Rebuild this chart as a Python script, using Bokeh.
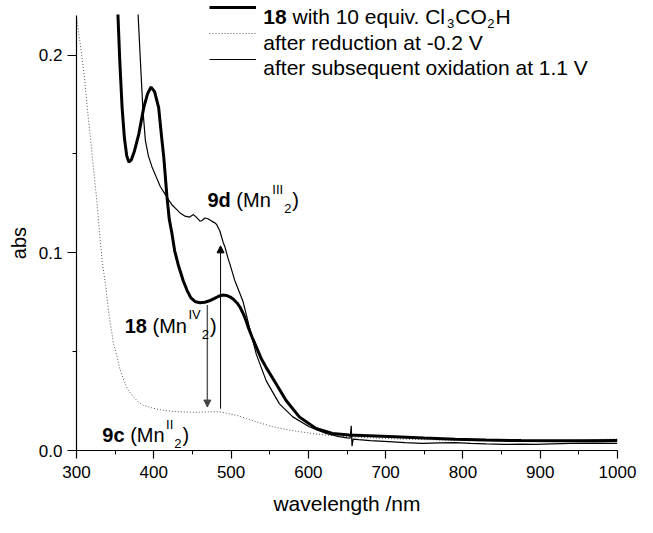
from bokeh.plotting import figure
from bokeh.models import (Range1d, FixedTicker, PrintfTickFormatter, Label, Arrow,
                          NormalHead, Legend, LegendItem, Title)
from bokeh.core.properties import value
from bokeh.embed import file_html
from bokeh.resources import INLINE

# ---------------- data ----------------
WL_ACID = [353.6, 356, 359, 362, 365, 367.7, 371, 375, 380.6, 387, 392, 396.4, 401, 406.3,
           410, 413, 417, 420, 423.4, 427, 432, 438, 443, 448, 454, 460, 466, 472, 478, 484,
           489, 494, 499, 503, 508, 512, 516, 520, 522, 527, 533, 539, 545.5, 558.4, 571.2,
           588.3, 609.8, 631.3, 652.6, 670, 704, 750, 790, 830, 875, 920, 960, 1000]
ABS_ACID = [0.2205, 0.197, 0.1734, 0.158, 0.149, 0.1459, 0.147, 0.1515, 0.160, 0.1734, 0.1805,
            0.1838, 0.1815, 0.1734, 0.159, 0.148, 0.1285, 0.117, 0.110, 0.101, 0.0934, 0.0860,
            0.0810, 0.0772, 0.0752, 0.0747, 0.0750, 0.0757, 0.0768, 0.0780, 0.0786, 0.0784,
            0.0776, 0.0765, 0.0745, 0.0722, 0.0690, 0.0650, 0.0625, 0.0575, 0.0520, 0.0465,
            0.0419, 0.0336, 0.0253, 0.0170, 0.0111, 0.0086, 0.0078, 0.0076, 0.0071, 0.0063,
            0.0057, 0.0053, 0.0050, 0.0049, 0.0049, 0.0050]

WL_RED = [300, 305, 309.9, 314, 318.4, 323, 327, 330, 333.4, 337.7, 341, 344, 348, 352.7, 356,
          361.3, 367, 374, 380, 387, 400, 412.7, 425, 438.4, 452, 468.4, 477, 485.5, 495, 507,
          520, 532.7, 554, 570, 588.3, 605, 622.7, 652.6, 680, 720, 760, 800, 850, 900, 940,
          970, 1000]
ABS_RED = [0.2195, 0.205, 0.190, 0.173, 0.1568, 0.139, 0.1234, 0.109, 0.0952, 0.0835, 0.072,
           0.0636, 0.054, 0.047, 0.0415, 0.0352, 0.0305, 0.0270, 0.0245, 0.0228, 0.0213, 0.0203,
           0.0198, 0.0195, 0.0193, 0.0195, 0.0196, 0.0195, 0.0188, 0.0178, 0.0162, 0.0145,
           0.0120, 0.0107, 0.0095, 0.0086, 0.0078, 0.0070, 0.0064, 0.0058, 0.0054, 0.0051,
           0.0048, 0.0048, 0.0051, 0.0055, 0.0058]

WL_OX = [379.7, 383.6, 386, 389.1, 393, 397.7, 403, 408.4, 414, 419.2, 424, 429.8, 435, 440.5,
         446, 451.3, 455, 459.8, 462, 466.2, 470, 474.8, 479.1, 481.3, 485.5, 489.9, 492, 496.3,
         498.4, 504.8, 515.6, 524, 532.7, 545.5, 562.6, 579.9, 601.2, 622.7, 639.8, 650, 654,
         655.5, 656.5, 658, 665, 680, 704, 725, 747, 770, 790, 810, 830, 854, 875, 893, 915,
         940, 970, 1000]
ABS_OX = [0.2205, 0.190, 0.172, 0.1568, 0.149, 0.1434, 0.1385, 0.1335, 0.1300, 0.1268, 0.1240,
          0.1218, 0.1198, 0.1185, 0.1180, 0.1193, 0.1180, 0.1160, 0.1162, 0.1176, 0.1172,
          0.1160, 0.1151, 0.1143, 0.1110, 0.1051, 0.1030, 0.0969, 0.0944, 0.0860, 0.0752,
          0.0619, 0.0486, 0.0352, 0.0236, 0.0170, 0.0120, 0.0086, 0.0070, 0.0064, 0.0062,
          0.0125, 0.0022, 0.0058, 0.0055, 0.0050, 0.0045, 0.0040, 0.0036, 0.0039, 0.0040,
          0.0036, 0.0033, 0.0031, 0.0032, 0.0031, 0.0034, 0.0036, 0.0037, 0.0036]

X_TICKS = [300, 400, 500, 600, 700, 800, 900, 1000]
X_MINOR = [350, 450, 550, 650, 750, 850, 950]
Y_TICKS = [0.0, 0.1, 0.2]
Y_MINOR = [0.05, 0.15]
X_TITLE = "wavelength /nm"
Y_TITLE = "abs"

FONT = "Liberation Sans"

# ---------------- layout geometry ----------------
W, H = 637, 517
FR_L, FR_R, FR_T, FR_B = 76, 20, 0, 66
FR_W = W - FR_L - FR_R
FR_H = H - FR_T - FR_B
Y_AX_END = 0.22
AX_TOP_PX = 15                                  # where 0.22 sits (px from top)
YSC = (FR_H - AX_TOP_PX) / Y_AX_END             # px per absorbance unit
Y_TOP = FR_H / YSC


def ref_to_data(rx, ry):
    """position measured on the reference picture -> data coordinates"""
    return 300 + (rx - 89) / 0.7779, (467.3 - ry) / 2003.0


def data_to_frame(x, y):
    return (x - 300) / 700.0 * FR_W, y / Y_TOP * FR_H


p = figure(width=W, height=H, output_backend="svg", toolbar_location=None,
           x_range=Range1d(300, 1000), y_range=Range1d(0, Y_TOP),
           min_border_left=FR_L, min_border_right=FR_R, min_border_top=FR_T,
           min_border_bottom=FR_B, title_location=None)
p.background_fill_color = "white"
p.border_fill_color = "white"
p.outline_line_color = None
p.xgrid.grid_line_color = None
p.ygrid.grid_line_color = None

# axes
xa = p.xaxis[0]
ya = p.yaxis[0]
xa.ticker = FixedTicker(ticks=X_TICKS, minor_ticks=X_MINOR)
ya.ticker = FixedTicker(ticks=Y_TICKS, minor_ticks=Y_MINOR)
ya.formatter = PrintfTickFormatter(format="%.1f")
ya.bounds = (0, Y_AX_END)
for ax in (xa, ya):
    ax.axis_line_color = "black"
    ax.axis_line_width = 1.2
    ax.major_tick_line_color = "black"
    ax.major_tick_line_width = 1.2
    ax.minor_tick_line_color = "black"
    ax.minor_tick_line_width = 1.0
    ax.major_tick_in = 0
    ax.minor_tick_in = 0
    ax.minor_tick_out = 4
    ax.major_label_text_font = FONT
    ax.major_label_text_font_size = "17px"
    ax.major_label_text_color = "black"
xa.major_tick_out = 8
ya.major_tick_out = 9
xa.major_label_standoff = 7
ya.major_label_standoff = 5

xa.axis_label = X_TITLE
xa.axis_label_text_font = FONT
xa.axis_label_text_font_size = "21px"
xa.axis_label_text_font_style = "normal"
xa.axis_label_text_color = "black"
xa.axis_label_standoff = 11

# y title as a side-panel title so it can sit off-centre like the original
_, abs_start = ref_to_data(0, 274.0)             # lower end of the rotated "abs"
y_title = Title(text=Y_TITLE, align="left", vertical_align="top", standoff=8,
                offset=abs_start * YSC, text_font=FONT, text_font_size="20px",
                text_font_style="normal", text_color="black")
p.add_layout(y_title, "left")

# curves
r_red = p.line(WL_RED, ABS_RED, line_color="#555555", line_width=1.0, line_dash="1 2")
r_ox = p.line(WL_OX, ABS_OX, line_color="black", line_width=1.2)
r_acid = p.line(WL_ACID, ABS_ACID, line_color="black", line_width=3.0)

# arrows
dx, dy0 = ref_to_data(220.7, 320.0)
_, dy1 = ref_to_data(220.7, 423.3)
p.add_layout(Arrow(x_start=dx, y_start=dy0, x_end=dx, y_end=dy1,
                   line_color="#555555", line_width=1.4,
                   end=NormalHead(size=7, fill_color="#444444", line_color="#444444")))
ux, uy0 = ref_to_data(234.0, 425.0)
_, uy1 = ref_to_data(234.0, 260.0)
p.add_layout(Arrow(x_start=ux, y_start=uy0, x_end=ux, y_end=uy1,
                   line_color="black", line_width=1.0,
                   end=NormalHead(size=7, fill_color="black", line_color="black")))

# ---------------- rich text helper ----------------
REG = {' ': 278, '(': 333, ')': 333, '-': 333, '.': 278, 'C': 722, 'H': 722, 'I': 278,
       'M': 833, 'O': 778, 'V': 667, 'a': 556, 'b': 556, 'c': 500, 'd': 556, 'e': 556,
       'f': 278, 'g': 556, 'h': 556, 'i': 222, 'l': 222, 'm': 833, 'n': 556, 'o': 556,
       'q': 556, 'r': 333, 's': 500, 't': 278, 'u': 556, 'v': 500, 'w': 722, 'x': 500}
BOLD = {' ': 278, 'c': 556, 'd': 611}


def text_w(s, size, bold):
    tbl = BOLD if bold else REG
    return sum(tbl.get(ch, 556) for ch in s) / 1000.0 * size


def rich(rx, ry, runs):
    x, y = ref_to_data(rx, ry)
    off = 0.0
    for text, size, bold, shift, gap in runs:
        off += gap
        stripped = text.lstrip(" ")
        off += text_w(text[:len(text) - len(stripped)], size, bold)
        p.add_layout(Label(x=x, y=y + shift / YSC, x_offset=off, text=stripped,
                           text_font=FONT, text_font_size=f"{size}px",
                           text_font_style="bold" if bold else "normal",
                           text_color="black", text_align="left",
                           text_baseline="alphabetic"))
        off += text_w(stripped, size, bold)


SUP, SUB = 11.0, -8.5
rich(220.8, 214.0, [("9d", 20, True, 0, 0), (" (Mn", 20, False, 0, 0),
                    ("III", 13, False, SUP, 1.5), ("2", 13, False, SUB, 1.0),
                    (")", 20, False, 0, 1.0)])
rich(137.5, 341.0, [("18", 20, True, 0, 0), (" (Mn", 20, False, 0, 0),
                    ("IV", 13, False, SUP, 1.5), ("2", 13, False, SUB, 1.0),
                    (")", 20, False, 0, 1.0)])
rich(115.0, 451.7, [("9c", 20, True, 0, 0), (" (Mn", 20, False, 0, 0),
                    ("II", 13, False, SUP, 1.5), ("2", 13, False, SUB, 1.0),
                    (")", 20, False, 0, 1.0)])

# legend texts
ROW_C = [20.3, 46.3, 72.3]        # reference y of legend sample lines
TXT_X = 277.0
rich(TXT_X, ROW_C[0] + 7.5, [("18", 21, True, 0, 0), (" with 10 equiv. Cl", 21, False, 0, 0),
                             ("3", 13, False, -7.0, 0.5), ("CO", 21, False, 0, 1.0),
                             ("2", 13, False, -7.0, 0.5), ("H", 21, False, 0, 1.0)])
rich(TXT_X, ROW_C[1] + 7.5, [("after reduction at -0.2 V", 21, False, 0, 0)])
rich(TXT_X, ROW_C[2] + 7.5, [("after subsequent oxidation at 1.1 V", 21, False, 0, 0)])

# legend line samples
ROW_H = 26
lx, _ = ref_to_data(223.0, 0)
_, ly = ref_to_data(0, ROW_C[2] + ROW_H / 2.0)
vx, vy = data_to_frame(lx, ly)
legend = Legend(items=[LegendItem(label=value(""), renderers=[r_acid]),
                       LegendItem(label=value(""), renderers=[r_red]),
                       LegendItem(label=value(""), renderers=[r_ox])],
                location=(vx, vy), glyph_width=47, glyph_height=ROW_H,
                label_height=ROW_H, label_width=0, label_standoff=0,
                padding=0, spacing=0, margin=0, border_line_color=None,
                background_fill_alpha=0, label_text_font_size="1px")
p.add_layout(legend)

open("out.html", "w").write(file_html(p, INLINE))
